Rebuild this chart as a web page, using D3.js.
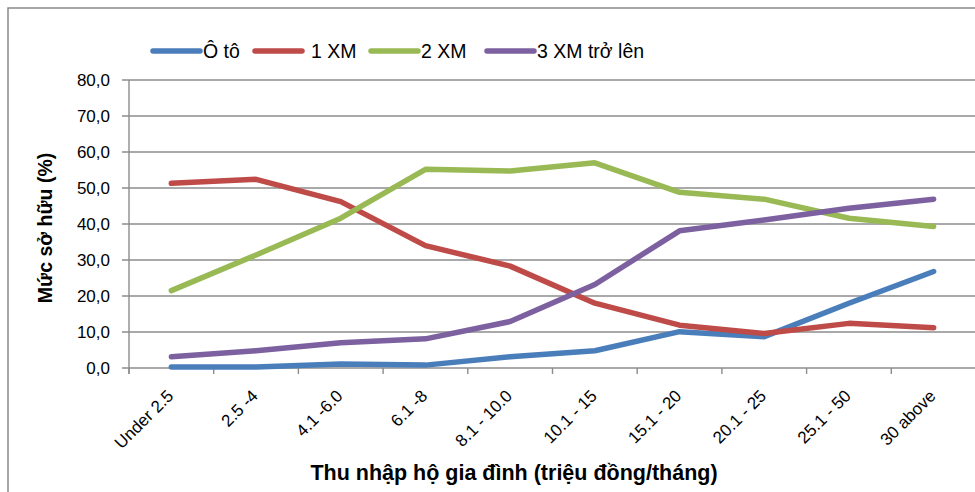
<!DOCTYPE html>
<html>
<head>
<meta charset="utf-8">
<script src="https://cdn.jsdelivr.net/npm/d3@7"></script>
<style>
  html, body { margin: 0; padding: 0; background: #fff; }
  svg { display: block; }
  text { font-family: "Liberation Sans", Arial, sans-serif; fill: #000; }
</style>
</head>
<body>
<svg id="chart" width="975" height="492"></svg>
<script>
// ---- data ----
const categories = ["Under 2.5", "2.5 -4", "4.1 -6.0", "6.1 -8", "8.1 - 10.0", "10.1 - 15", "15.1 - 20", "20.1 - 25", "25.1 - 50", "30 above"];
const seriesNames = ["Ô tô", "1 XM", "2 XM", "3 XM trở lên"];
const otoValues = [0.3, 0.3, 1.1, 0.8, 3.1, 4.8, 10.1, 8.7, 18.0, 26.8];
const xm1Values = [51.3, 52.4, 46.2, 34.0, 28.3, 18.0, 11.9, 9.6, 12.4, 11.2];
const xm2Values = [21.5, 31.4, 41.6, 55.2, 54.7, 57.0, 48.8, 46.9, 41.6, 39.3];
const xm3Values = [3.1, 4.8, 7.0, 8.1, 12.9, 23.2, 38.1, 41.1, 44.4, 46.9];
const yTicks = [0, 10, 20, 30, 40, 50, 60, 70, 80];
const yTitle = "Mức sở hữu (%)";
const xTitle = "Thu nhập hộ gia đình (triệu đồng/tháng)";

// ---- style / layout ----
const colors = ["#4a7ebb", "#be4b48", "#98b954", "#7d60a0"];
const seriesValues = [otoValues, xm1Values, xm2Values, xm3Values];
const gridColor = "#8c8c8c";
const plot = { left: 129, right: 976, top: 80, bottom: 368 };

const svg = d3.select("#chart");

// outer frame
svg.append("rect")
  .attr("x", 8).attr("y", 8).attr("width", 1000).attr("height", 600)
  .attr("fill", "none").attr("stroke", "#8a8a8a").attr("stroke-width", 1.5);

const x = d3.scaleBand().domain(categories).range([plot.left, plot.right]).padding(0);
const y = d3.scaleLinear().domain([0, 80]).range([plot.bottom, plot.top]);

// gridlines
svg.append("g").selectAll("line").data(yTicks).join("line")
  .attr("x1", plot.left - 7).attr("x2", plot.right)
  .attr("y1", d => y(d)).attr("y2", d => y(d))
  .attr("stroke", gridColor).attr("stroke-width", 1.4);

// y axis line
svg.append("line")
  .attr("x1", plot.left).attr("x2", plot.left)
  .attr("y1", plot.top).attr("y2", plot.bottom + 6)
  .attr("stroke", gridColor).attr("stroke-width", 1.4);

// x tick marks at band boundaries
const boundaries = categories.map(c => x(c)).concat([x(categories[categories.length - 1]) + x.bandwidth()]);
svg.append("g").selectAll("line").data(boundaries).join("line")
  .attr("x1", d => d).attr("x2", d => d)
  .attr("y1", plot.bottom).attr("y2", plot.bottom + 6)
  .attr("stroke", gridColor).attr("stroke-width", 1.4);

// y tick labels
const fmt = d => d.toFixed(1).replace(".", ",");
svg.append("g").selectAll("text").data(yTicks).join("text")
  .attr("x", 110).attr("y", d => y(d))
  .attr("dy", "0.35em")
  .attr("text-anchor", "end")
  .style("font-size", "17px")
  .text(fmt);

// x tick labels
svg.append("g").selectAll("text").data(categories).join("text")
  .attr("text-anchor", "end")
  .attr("transform", d => `translate(${x(d) + x.bandwidth() / 2 + 3},${plot.bottom + 29}) rotate(-45)`)
  .style("font-size", "17px")
  .text(d => d);

// axis titles
svg.append("text")
  .attr("transform", `translate(52,228) rotate(-90)`)
  .attr("text-anchor", "middle")
  .style("font-size", "19.5px").style("font-weight", "bold")
  .text(yTitle);

svg.append("text")
  .attr("x", 514).attr("y", 480)
  .attr("text-anchor", "middle")
  .style("font-size", "21.5px").style("font-weight", "bold")
  .text(xTitle);

// lines
const line = d3.line()
  .x((d, i) => x(categories[i]) + x.bandwidth() / 2)
  .y(d => y(d));

svg.append("g").selectAll("path").data(seriesValues).join("path")
  .attr("d", d => line(d))
  .attr("fill", "none")
  .attr("stroke", (d, i) => colors[i])
  .attr("stroke-width", 5.5)
  .attr("stroke-linejoin", "round")
  .attr("stroke-linecap", "round");

// legend
const legendX = [153, 255, 371, 487];
const legend = svg.append("g").selectAll("g").data(seriesNames).join("g")
  .attr("transform", (d, i) => `translate(${legendX[i]},51)`);
legend.append("line")
  .attr("x1", 0).attr("x2", 47).attr("y1", 0).attr("y2", 0)
  .attr("stroke", (d, i) => colors[i])
  .attr("stroke-width", 5.5).attr("stroke-linecap", "round");
legend.append("text")
  .attr("x", (d, i) => i === 1 ? 56 : 50).attr("y", 7)
  .style("font-size", "19.5px")
  .text(d => d);
</script>
</body>
</html>
